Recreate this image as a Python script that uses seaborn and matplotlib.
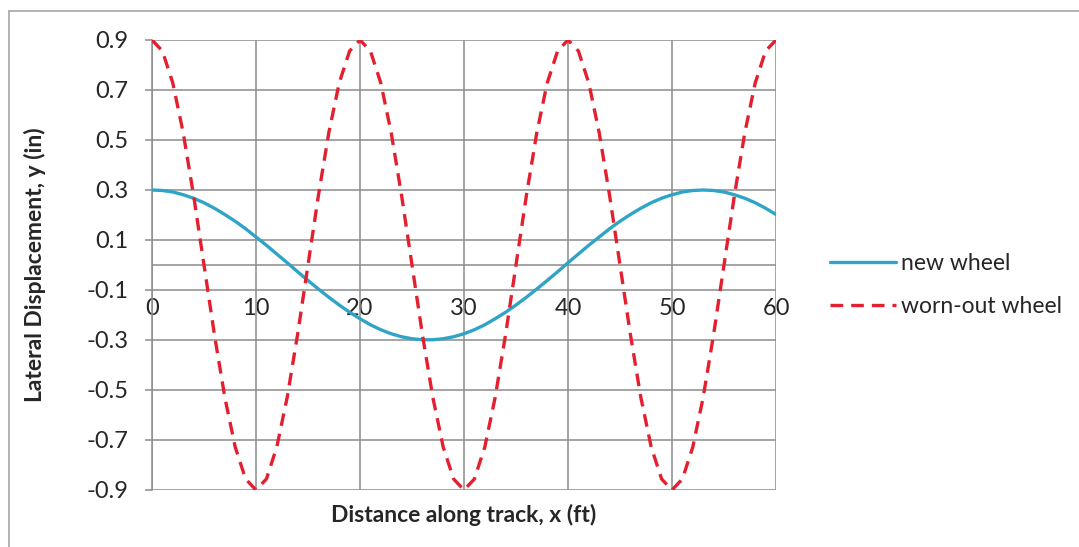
import pandas as pd
import matplotlib.pyplot as plt
import seaborn as sns
from matplotlib.lines import Line2D

# distance along track (ft), sampled every foot
x_ft = list(range(0, 61))

new_wheel = [
    0.300, 0.298, 0.292, 0.281, 0.267, 0.249, 0.227, 0.202, 0.175, 0.145,
    0.112, 0.079, 0.044, 0.009, -0.027, -0.062, -0.096, -0.129, -0.160, -0.189,
    -0.215, -0.239, -0.259, -0.275, -0.287, -0.295, -0.299, -0.299, -0.295, -0.287,
    -0.275, -0.259, -0.239, -0.215, -0.189, -0.160, -0.129, -0.096, -0.062, -0.027,
    0.009, 0.044, 0.079, 0.112, 0.145, 0.175, 0.202, 0.227, 0.249, 0.267,
    0.281, 0.292, 0.298, 0.300, 0.298, 0.292, 0.281, 0.267, 0.249, 0.227,
    0.202,
]

worn_cycle = [0.900, 0.856, 0.728, 0.529, 0.278, 0.0, -0.278, -0.529, -0.728, -0.856,
              -0.900, -0.856, -0.728, -0.529, -0.278, 0.0, 0.278, 0.529, 0.728, 0.856]
worn_wheel = worn_cycle * 3 + [0.900]

series_names = ['new wheel', 'worn-out wheel']
y_ticks = [-0.9, -0.7, -0.5, -0.3, -0.1, 0.1, 0.3, 0.5, 0.7, 0.9]
x_ticks = [0, 10, 20, 30, 40, 50, 60]

df = pd.DataFrame({
    'x': x_ft * 2,
    'y': new_wheel + worn_wheel,
    'series': [series_names[0]] * len(x_ft) + [series_names[1]] * len(x_ft),
})

sns.set_theme(style='white')
plt.rcParams['font.family'] = ['Lato', 'DejaVu Sans']

grid_c = '#8c8c8c'
fig = plt.figure(figsize=(10.79, 5.47), dpi=100)
ax = fig.add_axes([152 / 1079, 1 - 490 / 547, 624 / 1079, 450 / 547])

sns.lineplot(data=df, x='x', y='y', hue='series', style='series',
             palette={'new wheel': '#2fa4c6', 'worn-out wheel': '#e3202f'},
             dashes={'new wheel': '', 'worn-out wheel': (3.8, 2.4)},
             linewidth=2.4, ax=ax, zorder=3)

ax.set_xlim(0, 60)
ax.set_ylim(-0.9, 0.9)
ax.set_yticks(y_ticks)
ax.set_yticklabels([f'{v:.1f}' for v in y_ticks])
ax.set_xticks(x_ticks)

# grid like the original
for v in y_ticks:
    ax.axhline(v, color=grid_c, lw=1.1, zorder=1)
for v in x_ticks:
    ax.axvline(v, color=grid_c, lw=1.1, zorder=1)
ax.axhline(0, color=grid_c, lw=1.1, zorder=1)

for s in ['top', 'right', 'bottom']:
    ax.spines[s].set_visible(False)
ax.spines['left'].set_color(grid_c)
ax.spines['left'].set_linewidth(1.1)

ax.tick_params(axis='y', length=5, width=1.1, color=grid_c, direction='out',
               labelsize=17, pad=12, left=True)
ax.tick_params(axis='x', length=0, labelsize=17, pad=24)
ax.xaxis.set_ticks_position('bottom')
ax.spines['bottom'].set_position(('data', 0))

ax.set_xlabel('Distance along track, x (ft)', fontsize=16.5, fontweight='bold')
ax.set_ylabel('Lateral Displacement, y (in)', fontsize=16.5, fontweight='bold')
ax.xaxis.label.set_va('center')
ax.yaxis.label.set_va('center')
ax.xaxis.set_label_coords(0.5, (490 - 515) / 450)
ax.yaxis.set_label_coords((35 - 152) / 624, 0.5)

sns.move_legend(ax, 'center left', bbox_to_anchor=(1.054, 0.455), frameon=False,
                title=None, fontsize=16.5, handlelength=2.85, labelspacing=0.95,
                handletextpad=0.25)

# chart area border (only top and left visible in the crop)
fig.add_artist(Line2D([9 / 1079, 9 / 1079], [0, 1 - 11 / 547], color='#a6a6a6', lw=1.2))
fig.add_artist(Line2D([9 / 1079, 1], [1 - 11 / 547, 1 - 11 / 547], color='#a6a6a6', lw=1.2))

fig.savefig('out.png', dpi=100)
